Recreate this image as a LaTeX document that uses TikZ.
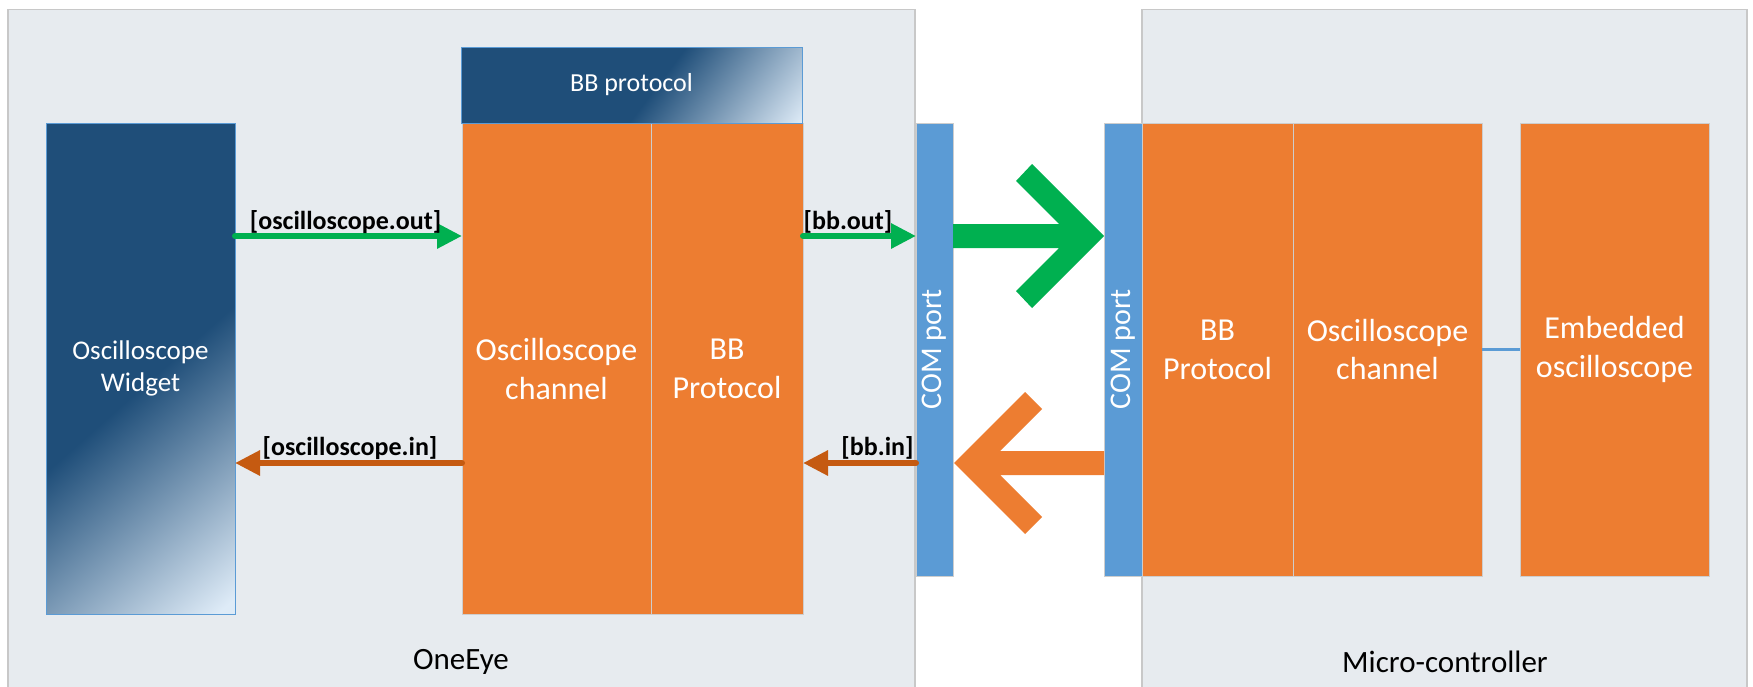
\documentclass[tikz,border=0pt]{standalone}
\usepackage{fontspec}
\setmainfont{Carlito}
\usetikzlibrary{arrows.meta,calc}
\definecolor{panelbg}{RGB}{231,235,239}
\definecolor{panelbd}{RGB}{200,200,200}
\definecolor{orangebox}{RGB}{237,125,49}
\definecolor{boxbd}{RGB}{205,205,205}
\definecolor{comblue}{RGB}{91,155,213}
\definecolor{dkblue}{RGB}{31,78,121}
\definecolor{ltblue}{RGB}{222,235,247}
\definecolor{arrgreen}{RGB}{0,176,80}
\definecolor{arrorange}{RGB}{197,90,17}
\pgfdeclarehorizontalshading{wshade}{100bp}{color(0bp)=(dkblue); color(51.5bp)=(dkblue); color(73.5bp)=(ltblue); color(100bp)=(ltblue)}
\pgfdeclarehorizontalshading{hshade}{100bp}{color(0bp)=(dkblue); color(53bp)=(dkblue); color(73bp)=(ltblue); color(100bp)=(ltblue)}
\tikzset{
  panel/.style={draw=panelbd, line width=1.2pt, fill=panelbg, anchor=north west, inner sep=0pt, outer sep=0pt},
  boxbase/.style={inner sep=0pt, outer sep=0pt, align=center, text=white, line width=1pt},
  obox/.style={boxbase, draw=boxbd, fill=orangebox, font=\fontsize{32}{39}\selectfont},
  combox/.style={boxbase, draw=boxbd, fill=comblue},
  comtext/.style={text=white, rotate=90, font=\fontsize{30}{36}\selectfont, inner sep=0pt},
  widgetbox/.style={boxbase, draw=comblue, fill=dkblue, font=\fontsize{27}{32}\selectfont,
    path picture={\shade[shading=wshade, shading angle=-48.5]
      ($(path picture bounding box.center)+(-250,-250)$) rectangle ($(path picture bounding box.center)+(250,250)$);}},
  headbox/.style={boxbase, draw=comblue, fill=dkblue, font=\fontsize{26}{31}\selectfont,
    path picture={\shade[shading=hshade, shading angle=-37]
      ($(path picture bounding box.center)+(-172.5,-172.5)$) rectangle ($(path picture bounding box.center)+(172.5,172.5)$);}},
  lbl/.style={font=\fontsize{26}{31}\selectfont\bfseries, anchor=base, inner sep=0pt, text=black},
  paneltitle/.style={font=\fontsize{31}{37}\selectfont, text=black, inner sep=0pt},
  garrow/.style={draw=arrgreen, line width=6pt, line cap=round, -{Triangle[length=25pt,width=24pt]}},
  oarrow/.style={draw=arrorange, line width=6pt, line cap=round, -{Triangle[length=25pt,width=24pt]}},
  conn/.style={draw=comblue, line width=2.5pt}
}
\begin{document}
\begin{tikzpicture}[x=1pt, y=-1pt]
\useasboundingbox (0,0) rectangle (1753,686);
\clip (0,0) rectangle (1753,686);
\fill[white] (0,0) rectangle (1753,686);
% panels
\node[panel, minimum width=907, minimum height=720] (oneeye) at (8,9.5) {};
\node[panel, minimum width=605, minimum height=720] (micro) at (1142,9.5) {};
\node[paneltitle] (oneeyet) at (461,662) {OneEye};
\node[paneltitle] (microt) at (1445,662) {Micro-controller};
% left side
\node[widgetbox, minimum width=189, minimum height=491] (widget) at (140.5,368.5) {Oscilloscope\\Widget};
\node[obox, minimum width=189, minimum height=491] (ochL) at (556.5,368.5) {Oscilloscope\\channel};
\node[obox, minimum width=152, minimum height=491] (bbL) at (727,368.5) {BB\\Protocol};
\node[headbox, minimum width=341, minimum height=76] (head) at (631.5,85) {BB protocol};
% COM ports
\node[combox, minimum width=37, minimum height=453] (comL) at (934.5,349.5) {};
\node[comtext] (comLt) at (comL.center) {COM port};
\node[combox, minimum width=38, minimum height=453] (comR) at (1123,349.5) {};
\node[comtext] (comRt) at (comR.center) {COM port};
% right side
\node[obox, minimum width=151, minimum height=453] (bbR) at (1217.5,349.5) {BB\\Protocol};
\node[obox, minimum width=189, minimum height=453] (ochR) at (1387.5,349.5) {Oscilloscope\\channel};
\node[obox, minimum width=189, minimum height=453] (emb) at (1614.5,349.5) {Embedded\\oscilloscope};
\draw[conn] (ochR.east) -- (emb.west);
% levels
\coordinate (lvout) at (0,236);
\coordinate (lvin) at (0,463);
% small arrows
\draw[garrow] (widget.east |- lvout) -- (ochL.west |- lvout);
\draw[garrow] (bbL.east |- lvout) -- (comL.west |- lvout);
\draw[oarrow] (ochL.west |- lvin) -- (widget.east |- lvin);
\draw[oarrow] (comL.west |- lvin) -- (bbL.east |- lvin);
\node[lbl] (l1) at (345.5,229) {[oscilloscope.out]};
\node[lbl] (l2) at (848,229) {[bb.out]};
\node[lbl] (l3) at (350,455) {[oscilloscope.in]};
\node[lbl] (l4) at (877.5,455) {[bb.in]};
% big chevrons
\fill[arrgreen] (953,224) -- (1059,224) -- (1016,181) -- (1032,164) -- (1104,236) -- (1032,308) -- (1016,291) -- (1059,248) -- (953,248) -- cycle;
\fill[orangebox] (1104,451) -- (1000,451) -- (1042,409) -- (1025,392) -- (954,463) -- (1025,534) -- (1042,517) -- (1000,475) -- (1104,475) -- cycle;
\end{tikzpicture}
\end{document}
